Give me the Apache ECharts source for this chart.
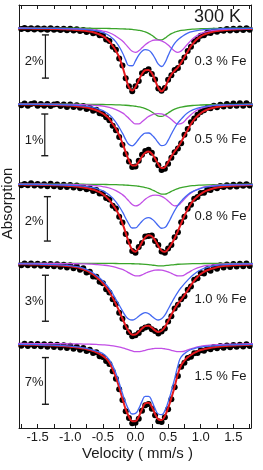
<!DOCTYPE html>
<html><head><meta charset="utf-8">
<script src="https://cdn.jsdelivr.net/npm/echarts@6/dist/echarts.min.js"></script>
<style>html,body{margin:0;padding:0;background:#fff}#c{width:263px;height:470px}</style>
</head><body><div id="c"></div>
<script>
// ---------- DATA ----------
const velocityData = [-1.8,-1.75,-1.7,-1.65,-1.6,-1.55,-1.5,-1.45,-1.4,-1.35,-1.3,-1.25,-1.2,-1.15,-1.1,-1.05,-1.0,-0.95,-0.9,-0.85,-0.8,-0.75,-0.7,-0.65,-0.6,-0.55,-0.5,-0.45,-0.4,-0.35,-0.3,-0.25,-0.2,-0.15,-0.1,-0.05,0,0.05,0.1,0.15,0.2,0.25,0.3,0.35,0.4,0.45,0.5,0.55,0.6,0.65,0.7,0.75,0.8,0.85,0.9,0.95,1.0,1.05,1.1,1.15,1.2,1.25,1.3,1.35,1.4,1.45,1.5,1.55,1.6,1.65,1.7,1.75,1.8];
const velocityFit = [-1.8,-1.5,-1.3,-1.1,-0.9,-0.8,-0.7,-0.6,-0.5,-0.4,-0.3,-0.2,-0.15,-0.1,-0.05,0,0.05,0.1,0.15,0.2,0.25,0.3,0.35,0.4,0.45,0.5,0.55,0.6,0.65,0.7,0.8,0.9,1.0,1.1,1.3,1.5,1.8];

const samples = ['0.3 % Fe','0.5 % Fe','0.8 % Fe','1.0 % Fe','1.5 % Fe'];
const scaleBarPct = [2,1,2,3,7];
const scaleBarLabels = ['2%','1%','2%','3%','7%'];
const tempLabel = '300 K';
const xTickValues = [-1.75,-1.5,-1.25,-1.0,-0.75,-0.5,-0.25,0,0.25,0.5,0.75,1.0,1.25,1.5,1.75];
const xLabelValues = [-1.5,-1.0,-0.5,0,0.5,1.0,1.5];

// absorption depth in % (measured data points), on velocityData
const dots1 = [-0.01,0.05,0.00,0.06,0.01,0.07,0.01,0.07,0.02,0.08,0.01,0.08,0.03,0.09,0.03,0.10,0.04,0.12,0.06,0.14,0.09,0.18,0.13,0.24,0.21,0.34,0.33,0.53,0.60,0.87,1.01,1.41,1.74,2.33,2.70,2.93,2.70,2.45,2.10,1.99,1.91,2.13,2.38,2.80,2.90,2.78,2.40,2.19,1.95,1.85,1.57,1.37,1.06,0.87,0.62,0.53,0.36,0.34,0.22,0.23,0.13,0.17,0.09,0.13,0.05,0.11,0.03,0.10,0.02,0.09,0.01,0.08,0.00];
const dots2 = [-0.02,0.03,-0.01,0.04,0.00,-0.02,0.04,0.00,0.04,0.00,0.05,0.01,0.00,0.05,0.01,0.07,0.01,0.07,0.03,0.09,0.05,0.12,0.09,0.16,0.14,0.22,0.24,0.32,0.39,0.52,0.63,0.79,0.98,1.20,1.38,1.51,1.50,1.36,1.22,1.13,1.10,1.17,1.33,1.47,1.58,1.55,1.43,1.29,1.16,1.07,0.94,0.74,0.60,0.44,0.35,0.26,0.19,0.15,0.09,0.10,0.04,0.08,0.02,0.06,0.00,0.05,-0.01,0.04,-0.02,0.04,-0.02,0.03,-0.02];
const dots3 = [-0.03,0.06,0.00,0.06,-0.03,0.07,0.00,0.08,0.01,0.10,-0.01,0.10,0.02,0.13,0.03,0.14,0.05,0.16,0.07,0.19,0.13,0.24,0.19,0.32,0.27,0.43,0.43,0.63,0.70,0.98,1.10,1.47,1.73,2.25,2.60,3.02,3.10,2.84,2.66,2.36,2.34,2.32,2.57,2.75,3.04,3.10,2.90,2.75,2.40,2.17,1.72,1.47,1.11,0.93,0.66,0.59,0.41,0.39,0.25,0.27,0.15,0.19,0.09,0.14,0.06,0.12,0.03,0.11,0.02,0.08,0.01,0.08,0.00];
const dots4 = [0.00,0.12,0.01,0.13,0.02,0.15,0.03,0.16,0.04,0.18,0.05,0.20,0.06,0.23,0.09,0.27,0.13,0.33,0.20,0.42,0.33,0.60,0.55,0.86,0.88,1.20,1.30,1.70,1.90,2.35,2.66,3.22,3.62,4.16,4.50,4.76,4.70,4.55,4.30,4.18,4.12,4.30,4.42,4.58,4.45,4.25,3.80,3.45,2.95,2.70,2.35,2.15,1.72,1.52,1.08,0.98,0.64,0.66,0.38,0.48,0.24,0.36,0.13,0.28,0.08,0.24,0.05,0.21,0.03,0.19,0.02,0.17,0.01];
const dots5 = [0.00,0.35,0.05,0.40,0.10,0.42,0.12,0.45,0.15,0.50,0.18,0.55,0.22,0.62,0.28,0.70,0.38,0.80,0.52,0.95,0.70,1.15,0.95,1.45,1.35,1.95,2.05,2.65,3.10,4.20,5.30,6.90,8.50,10.2,11.2,12.0,11.9,11.3,10.1,9.30,9.10,9.80,10.8,11.7,11.8,11.1,9.90,8.40,6.60,4.90,3.50,2.90,2.20,2.00,1.50,1.45,1.05,1.10,0.75,0.90,0.55,0.75,0.42,0.65,0.32,0.58,0.25,0.52,0.20,0.48,0.15,0.42,0.12];

// total fit (red), on velocityData
const fit1 = [0.020,0.022,0.024,0.026,0.028,0.030,0.032,0.034,0.036,0.039,0.042,0.045,0.049,0.053,0.058,0.064,0.071,0.079,0.089,0.102,0.118,0.138,0.164,0.197,0.240,0.300,0.380,0.490,0.630,0.824,1.049,1.362,1.785,2.291,2.735,2.892,2.729,2.419,2.129,1.957,1.941,2.097,2.413,2.772,2.929,2.754,2.426,2.156,1.979,1.818,1.602,1.342,1.088,0.840,0.650,0.500,0.390,0.310,0.250,0.200,0.165,0.140,0.120,0.100,0.088,0.078,0.070,0.063,0.057,0.052,0.048,0.044,0.040];
const fit2 = [0.008,0.009,0.010,0.011,0.012,0.013,0.014,0.015,0.016,0.018,0.020,0.022,0.024,0.027,0.030,0.034,0.039,0.045,0.052,0.061,0.072,0.086,0.103,0.124,0.150,0.185,0.228,0.285,0.360,0.478,0.594,0.746,0.939,1.156,1.356,1.473,1.475,1.385,1.262,1.169,1.141,1.191,1.306,1.446,1.536,1.514,1.398,1.258,1.139,1.033,0.909,0.763,0.621,0.480,0.370,0.290,0.220,0.170,0.135,0.108,0.088,0.072,0.060,0.050,0.043,0.037,0.032,0.028,0.025,0.022,0.020,0.018,0.016];
const fit3 = [0.025,0.027,0.029,0.031,0.033,0.035,0.037,0.040,0.043,0.046,0.050,0.054,0.059,0.065,0.072,0.080,0.090,0.102,0.116,0.133,0.155,0.182,0.215,0.255,0.305,0.370,0.460,0.580,0.730,0.923,1.136,1.416,1.774,2.202,2.643,2.969,3.051,2.888,2.622,2.402,2.306,2.355,2.535,2.787,3.001,3.057,2.935,2.714,2.445,2.125,1.769,1.431,1.149,0.890,0.700,0.560,0.450,0.360,0.290,0.235,0.190,0.160,0.135,0.115,0.100,0.088,0.078,0.070,0.063,0.057,0.052,0.048,0.044];
const fit4 = [0.056,0.060,0.064,0.068,0.073,0.078,0.083,0.089,0.095,0.102,0.109,0.120,0.130,0.143,0.159,0.180,0.200,0.230,0.265,0.320,0.390,0.480,0.590,0.730,0.900,1.08,1.30,1.56,1.87,2.24,2.66,3.12,3.60,4.08,4.45,4.66,4.64,4.47,4.26,4.10,4.08,4.20,4.38,4.48,4.40,4.16,3.78,3.36,2.96,2.63,2.38,2.08,1.76,1.43,1.13,0.89,0.70,0.56,0.455,0.38,0.32,0.26,0.21,0.18,0.16,0.14,0.127,0.117,0.107,0.098,0.090,0.084,0.079];
const fit5 = [0.18,0.19,0.20,0.21,0.22,0.23,0.25,0.26,0.28,0.30,0.32,0.34,0.37,0.40,0.43,0.47,0.51,0.56,0.62,0.69,0.78,0.88,1.00,1.15,1.35,1.60,1.90,2.30,2.90,3.90,5.10,6.60,8.30,9.90,11.0,11.7,11.7,11.0,9.90,9.00,8.90,9.50,10.6,11.4,11.5,10.9,9.70,8.20,6.50,4.60,3.30,2.60,2.10,1.75,1.45,1.20,1.00,0.88,0.77,0.68,0.60,0.53,0.48,0.44,0.40,0.36,0.33,0.31,0.29,0.27,0.25,0.23,0.21];

// sub-spectra, on velocityFit
const blue1 = [0.010,0.015,0.020,0.028,0.045,0.062,0.088,0.130,0.210,0.360,0.641,1.144,1.486,1.746,1.747,1.519,1.256,1.073,0.999,1.031,1.170,1.409,1.673,1.782,1.611,1.279,0.960,0.717,0.545,0.424,0.240,0.150,0.095,0.065,0.035,0.022,0.014];
const magenta1 = [0.010,0.013,0.017,0.024,0.038,0.050,0.068,0.095,0.140,0.220,0.379,0.601,0.758,0.933,1.077,1.126,1.056,0.918,0.775,0.663,0.590,0.556,0.558,0.596,0.673,0.789,0.933,1.068,1.127,1.066,0.742,0.440,0.260,0.160,0.070,0.040,0.020];
const green1 = [0.003,0.004,0.005,0.007,0.009,0.010,0.012,0.015,0.018,0.023,0.029,0.040,0.047,0.056,0.068,0.084,0.107,0.138,0.183,0.247,0.337,0.448,0.541,0.551,0.470,0.358,0.263,0.194,0.146,0.112,0.071,0.048,0.035,0.026,0.016,0.011,0.007];

const blue2 = [0.006,0.009,0.012,0.018,0.032,0.045,0.065,0.100,0.160,0.260,0.441,0.700,0.853,0.972,1.003,0.942,0.840,0.750,0.700,0.696,0.741,0.826,0.929,0.999,0.982,0.873,0.721,0.575,0.455,0.363,0.210,0.130,0.080,0.050,0.025,0.015,0.009];
const magenta2 = [0.003,0.004,0.005,0.007,0.012,0.016,0.023,0.033,0.050,0.080,0.134,0.213,0.273,0.348,0.426,0.479,0.478,0.427,0.359,0.300,0.259,0.236,0.229,0.239,0.266,0.311,0.373,0.440,0.483,0.472,0.332,0.190,0.105,0.060,0.025,0.014,0.008];
const green2 = [0.002,0.003,0.003,0.004,0.006,0.007,0.008,0.010,0.012,0.015,0.019,0.026,0.030,0.036,0.044,0.054,0.067,0.085,0.110,0.145,0.191,0.244,0.288,0.298,0.266,0.214,0.164,0.124,0.095,0.074,0.048,0.033,0.024,0.018,0.011,0.008,0.005];

const blue3 = [0.015,0.022,0.030,0.045,0.075,0.100,0.140,0.200,0.310,0.500,0.806,1.253,1.540,1.813,1.981,1.980,1.845,1.677,1.556,1.519,1.574,1.709,1.878,1.993,1.960,1.764,1.482,1.199,0.960,0.772,0.480,0.310,0.200,0.130,0.065,0.040,0.024];
const magenta3 = [0.007,0.010,0.013,0.018,0.030,0.040,0.055,0.078,0.115,0.180,0.298,0.478,0.613,0.772,0.919,0.988,0.942,0.820,0.688,0.586,0.523,0.498,0.508,0.556,0.643,0.765,0.898,0.983,0.960,0.836,0.528,0.310,0.180,0.110,0.050,0.028,0.015];
const green3 = [0.004,0.005,0.006,0.008,0.010,0.012,0.014,0.017,0.021,0.025,0.032,0.043,0.049,0.058,0.069,0.083,0.101,0.125,0.158,0.201,0.258,0.328,0.401,0.452,0.454,0.406,0.334,0.263,0.205,0.161,0.103,0.070,0.050,0.037,0.023,0.016,0.010];

const blue4 = [0.04,0.06,0.08,0.12,0.21,0.32,0.50,0.78,1.15,1.65,2.35,3.10,3.45,3.65,3.70,3.62,3.45,3.30,3.22,3.28,3.45,3.62,3.70,3.62,3.38,3.00,2.60,2.22,1.88,1.58,1.10,0.70,0.42,0.26,0.10,0.06,0.04];
const magenta4 = [0.007,0.010,0.013,0.018,0.030,0.040,0.055,0.078,0.115,0.170,0.262,0.403,0.505,0.624,0.742,0.819,0.821,0.752,0.653,0.560,0.492,0.451,0.438,0.451,0.492,0.560,0.653,0.752,0.821,0.819,0.624,0.390,0.230,0.140,0.060,0.033,0.018];
const green4 = [0.001,0.002,0.002,0.003,0.004,0.005,0.006,0.007,0.008,0.010,0.013,0.018,0.021,0.024,0.029,0.035,0.044,0.055,0.070,0.089,0.113,0.141,0.164,0.170,0.156,0.131,0.104,0.081,0.063,0.050,0.033,0.023,0.017,0.013,0.008,0.005,0.003];

const blue5 = [0.15,0.21,0.27,0.36,0.53,0.67,0.86,1.18,1.55,2.50,4.50,7.50,8.90,10.0,10.6,10.5,9.80,8.70,7.95,7.95,8.65,9.80,10.6,10.7,10.1,8.80,7.15,5.30,3.35,2.05,1.20,0.80,0.58,0.45,0.30,0.22,0.15];
const magenta5 = [0.028,0.038,0.049,0.065,0.091,0.110,0.136,0.174,0.228,0.312,0.448,0.668,0.819,0.987,1.146,1.248,1.255,1.172,1.045,0.920,0.824,0.765,0.746,0.765,0.824,0.920,1.045,1.172,1.255,1.248,0.987,0.668,0.448,0.312,0.174,0.110,0.065];

// ---------- LAYOUT / STYLE ----------
const FONT = '"Liberation Sans", Arial, Helvetica, sans-serif';
const INK = '#1a1a1a';
const COL = {red:'#e3181d', blue:'#4368f2', magenta:'#c24fe6', green:'#3aa52a', dot:'#000'};
const X_MIN = -1.785, X_MAX = 1.77;
const frame = {left:19, top:5, width:232, height:423};
const panels = [
  {dots:dots1, fit:fit1, blue:blue1, magenta:magenta1, green:green1, baseline:28,    pxPerPct:21.6,  barX:-1.38, barTop:0.32, pctY:61.7,  feY:61.7},
  {dots:dots2, fit:fit2, blue:blue2, magenta:magenta2, green:green2, baseline:104,   pxPerPct:41.7,  barX:-1.39, barTop:0.24, pctY:140,   feY:139.3},
  {dots:dots3, fit:fit3, blue:blue3, magenta:magenta3, green:green3, baseline:184,   pxPerPct:22.2,  barX:-1.35, barTop:0.57, pctY:221.7, feY:216.7},
  {dots:dots4, fit:fit4, blue:blue4, magenta:magenta4, green:green4, baseline:263.3, pxPerPct:15.33, barX:-1.38, barTop:0.78, pctY:301.5, feY:299.3},
  {dots:dots5, fit:fit5, blue:blue5, magenta:magenta5, green:null,   baseline:343.3, pxPerPct:6.67,  barX:-1.38, barTop:2.14, pctY:382.2, feY:376.7}
];

const grids = [], xAxes = [], yAxes = [], series = [], texts = [];
const zip = (xs, ys) => xs.map((x, k) => [x, ys[k]]);
const axisLineStyle = {color: INK, width: 1};

panels.forEach((p, i) => {
  grids.push(Object.assign({}, frame));
  const isBottom = i === panels.length - 1;
  xAxes.push({
    gridIndex: i, type: 'value', min: X_MIN, max: X_MAX, show: isBottom, position: 'bottom',
    axisLine: {show: true, onZero: false, lineStyle: axisLineStyle},
    axisTick: {show: true, inside: true, length: 4, customValues: xTickValues, lineStyle: axisLineStyle},
    axisLabel: {show: true, customValues: xLabelValues, formatter: v => v.toFixed(1), margin: 3,
      fontSize: 13, fontFamily: FONT, color: INK},
    splitLine: {show: false}
  });
  yAxes.push({
    gridIndex: i, type: 'value', inverse: true,
    min: -(p.baseline - frame.top) / p.pxPerPct,
    max: (frame.top + frame.height - p.baseline) / p.pxPerPct,
    show: i === 0, position: 'left',
    axisLine: {show: true, onZero: false, lineStyle: axisLineStyle},
    axisTick: {show: false}, axisLabel: {show: false}, splitLine: {show: false}
  });
  series.push({type: 'scatter', xAxisIndex: i, yAxisIndex: i, data: zip(velocityData, p.dots),
    symbol: 'circle', symbolSize: 6, itemStyle: {color: COL.dot, opacity: 1}, z: 2, silent: true});
  series.push({type: 'line', xAxisIndex: i, yAxisIndex: i, data: zip(velocityData, p.fit),
    smooth: 0.4, showSymbol: false, lineStyle: {color: COL.red, width: 2}, z: 3, silent: true});
  if (p.green) series.push({type: 'line', xAxisIndex: i, yAxisIndex: i, data: zip(velocityFit, p.green),
    smooth: 0.5, showSymbol: false, lineStyle: {color: COL.green, width: 1.3}, z: 4, silent: true});
  series.push({type: 'line', xAxisIndex: i, yAxisIndex: i, data: zip(velocityFit, p.magenta),
    smooth: 0.5, showSymbol: false, lineStyle: {color: COL.magenta, width: 1.3}, z: 5, silent: true});
  series.push({type: 'line', xAxisIndex: i, yAxisIndex: i, data: zip(velocityFit, p.blue),
    smooth: 0.5, showSymbol: false, lineStyle: {color: COL.blue, width: 1.3}, z: 6, silent: true});
  // scale bar
  series.push({type: 'line', xAxisIndex: i, yAxisIndex: i,
    data: [[p.barX, p.barTop], [p.barX, p.barTop + scaleBarPct[i]]],
    symbol: 'rect', symbolSize: [7, 1.4], showSymbol: true,
    lineStyle: {color: INK, width: 1.2}, itemStyle: {color: INK}, z: 7, silent: true});
  texts.push({type: 'text', x: 43.5, y: p.pctY, style: {text: scaleBarLabels[i], fill: INK,
    font: '13px ' + FONT, textAlign: 'right', textVerticalAlign: 'middle', align: 'right', verticalAlign: 'middle'}});
  texts.push({type: 'text', x: 194.5, y: p.feY, style: {text: samples[i], fill: INK,
    font: '13px ' + FONT, textAlign: 'left', textVerticalAlign: 'middle', align: 'left', verticalAlign: 'middle'}});
});

// top axis (ticks inside) and right frame line on grid 0
xAxes.push({gridIndex: 0, type: 'value', min: X_MIN, max: X_MAX, position: 'top',
  axisLine: {show: true, onZero: false, lineStyle: axisLineStyle},
  axisTick: {show: true, inside: true, length: 4, customValues: xTickValues, lineStyle: axisLineStyle},
  axisLabel: {show: false}, splitLine: {show: false}});
yAxes.push({gridIndex: 0, type: 'value', min: 0, max: 1, position: 'right',
  axisLine: {show: true, onZero: false, lineStyle: axisLineStyle},
  axisTick: {show: false}, axisLabel: {show: false}, splitLine: {show: false}});

texts.push({type: 'text', x: 194, y: 16.6, style: {text: tempLabel, fill: INK, font: '18px ' + FONT,
  textAlign: 'left', textVerticalAlign: 'middle', align: 'left', verticalAlign: 'middle'}});
texts.push({type: 'text', x: 137.5, y: 454.3, style: {text: 'Velocity ( mm/s )', fill: INK, font: '15px ' + FONT,
  textAlign: 'center', textVerticalAlign: 'middle', align: 'center', verticalAlign: 'middle'}});
texts.push({type: 'text', x: 7.5, y: 203.5, rotation: Math.PI / 2, style: {text: 'Absorption', fill: INK, font: '15px ' + FONT,
  textAlign: 'center', textVerticalAlign: 'middle', align: 'center', verticalAlign: 'middle'}});

const chart = echarts.init(document.getElementById('c'), null, {renderer: 'canvas'});
chart.setOption({
  animation: false,
  backgroundColor: '#fff',
  grid: grids, xAxis: xAxes, yAxis: yAxes, series: series,
  graphic: {elements: texts}
});
</script>
</body></html>
